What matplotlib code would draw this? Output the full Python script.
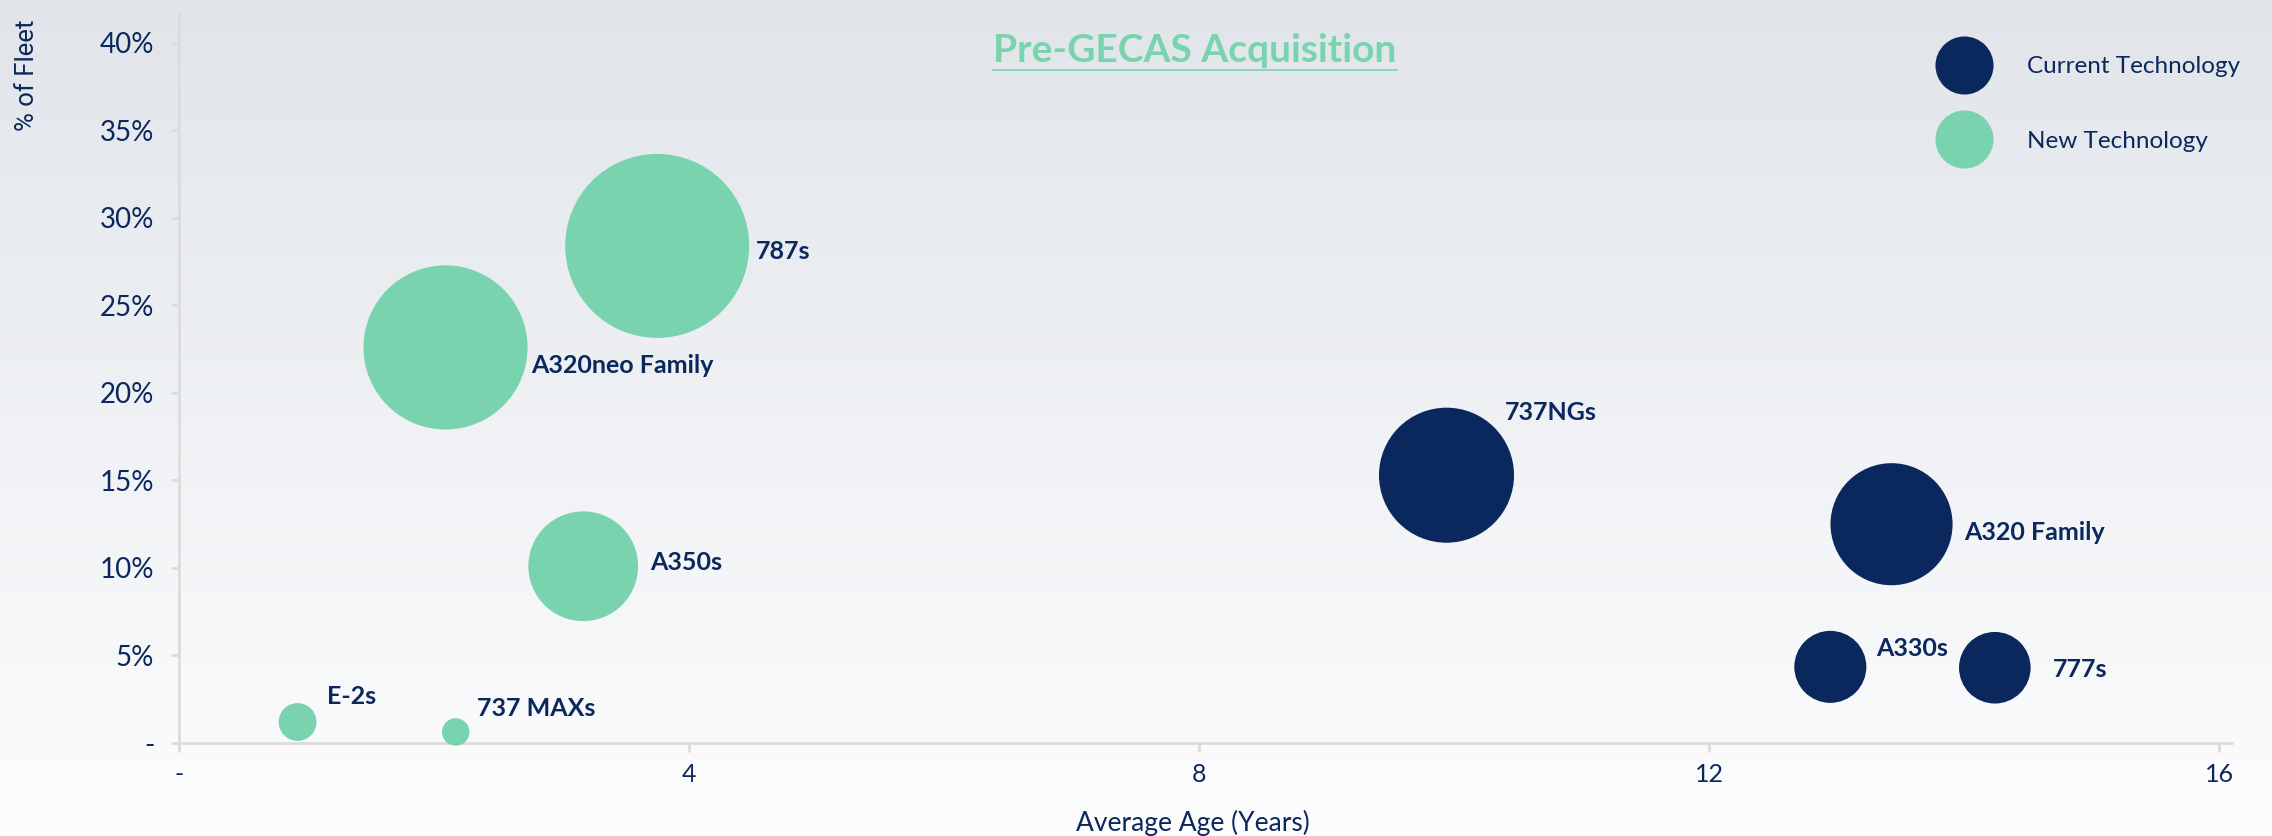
import numpy as np
import matplotlib
matplotlib.use("Agg")
import matplotlib.pyplot as plt
from matplotlib.lines import Line2D
from matplotlib.ticker import FuncFormatter, FixedLocator

# --- data ---
aircraft = ["E-2s", "737 MAXs", "A320neo Family", "787s", "A350s",
            "737NGs", "A320 Family", "A330s", "777s"]
avg_age = [0.93, 2.17, 2.09, 3.75, 3.17, 9.94, 13.43, 12.95, 14.24]
pct_fleet = [1.2, 0.63, 22.6, 28.4, 10.1, 15.3, 12.5, 4.35, 4.3]
technology = ["New", "New", "New", "New", "New",
              "Current", "Current", "Current", "Current"]

x_ticks = [0, 4, 8, 12, 16]
y_ticks = [0, 5, 10, 15, 20, 25, 30, 35, 40]
legend_labels = ["Current Technology", "New Technology"]

# label offsets (points) from bubble centre
label_offsets = [(21, 18), (15, 17), (62, -13), (71, -4), (48, 3),
                 (42, 45), (52, -6), (33, 13), (42, -1)]

NAVY = "#0b285e"
GREEN = "#79d3ae"
SPINE = "#dcdcdc"
tech_colors = {"Current": NAVY, "New": GREEN}

plt.rcParams["font.family"] = ["Lato", "DejaVu Sans"]

fig = plt.figure(figsize=(22.72, 8.36), dpi=100)

# --- background gradient ---
bg = fig.add_axes([0, 0, 1, 1], zorder=-10)
top = np.array([225, 229, 234]) / 255
bot = np.array([253, 253, 254]) / 255
t = np.linspace(0, 1, 256)[:, None]
grad = top * (1 - t) + bot * t
bg.imshow(grad[:, None, :], aspect="auto", extent=[0, 1, 0, 1])
bg.set_axis_off()

# --- main axes ---
ax = fig.add_axes([179 / 2272, 1 - 743 / 836, (2232 - 179) / 2272, (743 - 14) / 836])
ax.set_facecolor("none")
ax.set_xlim(0, 16.1)
ax.set_ylim(0, 41.65)

sizes = [618 * p for p in pct_fleet]
colors = [tech_colors[tk] for tk in technology]
ax.scatter(avg_age, pct_fleet, s=sizes, c=colors, linewidths=0, zorder=3, clip_on=False)

for name, x, y, off in zip(aircraft, avg_age, pct_fleet, label_offsets):
    ax.annotate(name, (x, y), xytext=off, textcoords="offset points",
                ha="left", va="center", fontsize=18, fontweight="bold",
                color=NAVY, zorder=4)

for side in ["top", "right"]:
    ax.spines[side].set_visible(False)
for side in ["left", "bottom"]:
    ax.spines[side].set_color(SPINE)
    ax.spines[side].set_linewidth(2)

ax.xaxis.set_major_locator(FixedLocator(x_ticks))
ax.yaxis.set_major_locator(FixedLocator(y_ticks))
ax.xaxis.set_major_formatter(FuncFormatter(lambda v, p: "-" if v == 0 else f"{v:.0f}"))
ax.yaxis.set_major_formatter(FuncFormatter(lambda v, p: "-" if v == 0 else f"{v:.0f}%"))
ax.tick_params(axis="x", length=6.5, width=2, color=SPINE, labelsize=18,
               labelcolor=NAVY, pad=8)
ax.tick_params(axis="y", length=5.8, width=2, color=SPINE, labelsize=20,
               labelcolor=NAVY, pad=12)

# axis titles
fig.text(1193 / 2272, 1 - 823 / 836, "Average Age (Years)", ha="center", va="center",
         fontsize=19, color=NAVY)
fig.text(27 / 2272, 1 - 75 / 836, "% of Fleet", rotation=90, ha="center", va="center",
         fontsize=18.5, color=NAVY, family=["Roboto", "DejaVu Sans"])

# title with underline
title = fig.text(1195 / 2272, 1 - 51 / 836, "Pre-GECAS Acquisition", ha="center",
                 va="center", fontsize=28, fontweight="bold", color=GREEN)

# legend
handles = [Line2D([], [], marker="o", linestyle="none", markersize=41.8,
                  markerfacecolor=tech_colors[k], markeredgewidth=0)
           for k in ["Current", "New"]]
ax.legend(handles, legend_labels, loc="upper left",
          bbox_to_anchor=(1936 / 2272, 1 - 56 / 836), bbox_transform=fig.transFigure,
          frameon=False, fontsize=17.5, labelcolor=NAVY, handlelength=2.3,
          handletextpad=1.45, labelspacing=2.2, borderpad=0, borderaxespad=0)

fig.canvas.draw()
bb = title.get_window_extent()
uy = 1 - 70 / 836
fig.add_artist(Line2D([bb.x0 / 2272, bb.x1 / 2272], [uy, uy], color=GREEN, lw=1.2,
                      transform=fig.transFigure))

fig.savefig("out.png", dpi=100)
